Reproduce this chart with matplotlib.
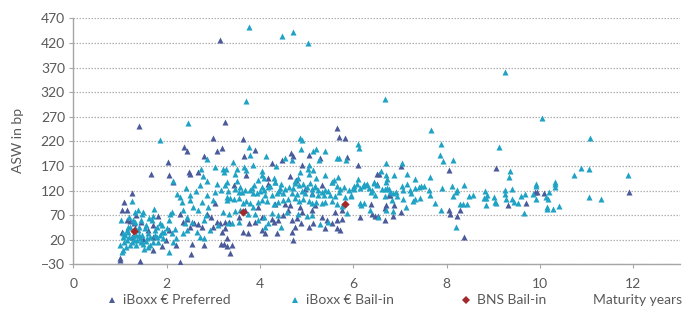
import matplotlib
matplotlib.use("Agg")
import matplotlib.pyplot as plt
from matplotlib.lines import Line2D

plt.rcParams['font.family'] = ['Lato', 'DejaVu Sans']

# ---------------- data (maturity in years, ASW in bp) ----------------
pref_x = [3.15,
          3.26, 3.64, 3.90, 3.66, 4.25, 3.71, 4.18, 4.47, 4.67, 4.71, 5.06, 5.29, 4.89, 4.65, 4.78, 5.66, 5.69, 5.82, 5.86,
          1.40, 2.37, 2.44, 3.00, 2.03, 1.66, 2.05, 2.48, 2.51, 2.67, 2.81, 3.08, 3.18, 2.13,
          1.01, 1.01, 1.09, 1.16, 1.25, 1.22, 1.29, 1.32, 1.43, 1.50, 1.70, 1.71, 1.70, 1.89, 2.04, 2.29, 2.29, 2.36, 2.44,
          2.50, 2.54, 2.59, 2.68, 2.75, 2.79, 2.86, 2.96, 3.00, 3.04, 3.07, 3.14, 3.18, 3.25, 3.29, 2.21, 1.82, 1.99, 2.52,
          3.17, 3.22, 3.29, 3.39, 3.36,
          1.05, 1.15, 1.25, 1.35, 1.45, 1.60, 1.05,
          3.45, 3.68, 3.96, 4.04, 3.89, 3.76, 3.64, 3.74, 4.05, 4.11, 4.36, 4.68, 4.71, 4.76, 4.88, 5.04, 5.14, 5.39, 5.54,
          5.66, 5.75, 5.64, 5.71, 3.25, 3.34, 3.54, 4.25, 4.31, 4.39, 4.50, 4.59, 4.68, 4.79, 4.89, 5.12, 5.18, 5.32, 5.43,
          5.61, 5.75, 4.32, 4.54, 4.64, 4.86, 4.96, 5.11, 5.32, 4.18,
          6.09, 8.04, 7.03, 6.50, 6.54,
          6.14, 6.37, 6.40, 6.47, 6.50, 6.52, 6.67, 6.70, 6.77, 6.84, 6.87, 7.03, 6.68, 8.04, 8.07, 8.23, 8.29, 8.38, 6.79,
          9.05, 11.91, 9.32, 9.71, 9.89, 9.93, 10.08]
pref_y = [425,
          259, 225, 202, 191, 176, 151, 145, 181, 196, 191, 192, 186, 171, 150, 141, 248, 229, 226, 189,
          252, 209, 200, 226, 178, 153, 152, 157, 153, 157, 190, 200, 206, 137,
          -18, -22, 97, 80, 114, 57, 53, 43, -23, 21, 50, 26, -1, 7, 40, -25, 73, 56, 63,
          46, 12, 53, 52, 46, 9, 73, 67, 46, 94, 56, 53, 36, 56, 23, 9, 68, 19, -10,
          11, 11, 8, 9, -8,
          35, 60, 25, 70, 55, 40, 80,
          131, 80, 87, 66, 56, 54, 36, 34, 39, 33, 33, 36, 20, 46, 53, 45, 53, 43, 53,
          60, 63, 43, 39, 43, 56, 66, 63, 56, 60, 70, 80, 61, 65, 77, 81, 90, 66, 61,
          77, 81, 93, 93, 90, 87, 124, 114, 131, 134,
          172, 161, 169, 154, 154,
          67, 92, 73, 68, 133, 68, 84, 90, 110, 68, 90, 76, 60, 80, 73, 68, 81, 26, 111,
          166, 116, 91, 95, 116, 116, 114]

bail_x = [3.76, 4.47, 4.71, 5.03, 9.25, 10.04, 11.07, 9.12,
          3.71, 3.77, 3.78, 4.12, 3.42, 4.34, 3.84, 3.66, 3.69, 3.50, 3.46, 4.05, 4.05, 4.09, 4.32, 4.54, 4.69, 4.86, 4.90,
          4.87, 5.14, 5.21, 5.39, 5.26, 5.04, 5.02, 5.14, 4.86, 4.81, 5.04, 5.39, 5.68, 5.64, 5.69, 5.84, 5.55,
          2.46, 1.86, 2.73, 2.14, 2.77, 2.86, 2.86, 3.04, 3.21, 3.27, 3.22,
          1.02, 1.06, 1.07, 1.06, 1.14, 1.18, 1.25, 1.20, 1.27, 1.32, 1.39, 1.47, 1.50, 1.41, 1.34, 1.37, 1.43, 1.50, 1.57,
          1.61, 1.68, 1.71, 1.73, 1.75, 1.79, 1.82, 1.89, 1.93, 2.00, 2.04, 2.07, 2.11, 2.06, 2.14, 2.20, 2.23, 2.29, 2.32,
          2.36, 2.42, 2.43, 2.49, 2.51, 2.54, 2.57, 2.63, 2.68, 2.71, 2.75, 2.79, 2.84, 2.87, 2.89, 2.93, 3.00, 3.04, 3.07,
          3.11, 3.16, 3.20, 3.25, 3.29, 3.32, 1.01, 1.04, 1.22, 1.54, 1.64, 1.79, 1.86, 2.11, 2.18, 2.34, 2.39, 2.44, 2.64,
          2.71, 2.79,
          1.10, 1.15, 1.20, 1.25, 1.30, 1.35, 1.40, 1.45, 1.12, 1.18, 1.28, 1.38, 1.48, 1.55, 1.60, 1.65, 1.70, 1.75, 1.22,
          1.33, 1.45, 1.55, 1.62, 1.08, 1.52, 1.85, 1.95, 1.90,
          3.29, 3.88, 4.05, 4.09, 4.18, 4.32, 4.43, 4.46, 4.54, 4.71, 4.76, 4.84, 4.93, 5.00, 5.07, 5.12, 5.18, 5.25, 5.32,
          5.39, 5.55, 5.64, 5.71, 5.79, 5.91, 5.99, 3.32, 3.46, 3.54, 3.61, 3.68, 3.79, 3.86, 3.93, 4.11, 4.25, 4.36, 4.50,
          4.68, 4.79, 4.96, 5.11, 5.25, 5.38, 5.50, 5.61, 5.82, 5.96, 3.29, 3.36, 3.45, 3.54, 3.64, 3.71, 3.79, 3.86, 3.96,
          4.04, 4.16, 4.29, 4.39, 4.50, 4.61, 4.74, 4.84, 4.93, 5.04, 5.12, 5.21, 5.32, 5.39, 5.54, 5.64, 5.75, 5.86, 3.34,
          3.46, 3.57, 3.75, 3.89, 4.09, 4.25, 4.39, 4.57, 4.81, 5.00, 5.11, 5.29, 5.46, 3.39, 3.55, 3.96, 4.18, 4.11, 4.45,
          6.68, 7.67, 6.10, 6.12, 7.88, 7.86, 7.93, 8.14, 6.69, 7.05, 6.59, 6.69, 6.72, 6.87, 7.14, 7.33, 7.64, 6.10, 6.44,
          5.95, 6.02, 6.02, 6.07, 6.14, 6.20, 6.22, 6.27, 6.30, 6.34, 6.37, 6.41, 6.44, 6.47, 6.50, 6.61, 6.67, 6.67, 6.72,
          6.70, 6.76, 6.79, 6.82, 6.84, 6.92, 6.93, 7.04, 7.06, 7.07, 7.13, 7.14, 7.22, 7.24, 7.27, 7.33, 7.40, 7.46, 7.52,
          7.62, 7.64, 7.76, 7.87, 7.90, 8.12, 8.13, 8.19, 8.23, 8.29, 8.36, 8.38, 8.43, 8.47, 8.56, 8.20, 6.14, 6.17, 6.22,
          6.36, 6.53, 6.70, 6.86, 7.32, 7.42,
          8.82, 8.79, 8.84, 8.86, 8.84, 9.02, 9.04, 9.05, 9.24, 9.26, 9.27, 9.39, 9.40, 9.44, 9.52, 9.59, 9.68, 9.65, 9.84,
          9.91, 9.92, 9.91, 10.12, 10.18, 10.20, 10.14, 10.14, 10.27, 10.41, 10.32, 10.33, 10.32, 9.36, 9.34, 10.73, 10.88,
          11.06, 11.89, 11.06, 11.31,
          3.58, 3.83, 4.00, 4.22, 4.40, 4.62, 4.90, 5.17, 5.45, 5.70, 3.50, 3.95, 4.30, 4.75, 5.20, 5.58]
bail_y = [452, 435, 443, 420, 360, 268, 226, 209,
          302, 208, 193, 190, 178, 169, 172, 167, 162, 163, 154, 160, 151, 145, 138, 187, 181, 227, 223,
          204, 200, 204, 201, 181, 172, 164, 161, 158, 146, 153, 151, 148, 187, 187, 181, 137,
          258, 223, 164, 140, 149, 140, 185, 167, 164, 164, 157,
          61, 33, 25, -1, 40, 46, 99, 67, 60, 77, 80, 73, 77, 46, 29, 19, 23, 12, 23,
          33, 60, 68, 82, 40, 26, 16, 36, 23, 43, 60, 73, 77, -5, 16, 23, 113, 107, 97,
          80, 126, 67, 111, 101, 56, 87, 118, 80, 131, 97, 60, 70, 111, 87, 40, 101, 117, 134,
          50, 122, 77, 131, 107, 53, 9, -5, 9, 43, 9, 46, 53, 34, 41, 33, 53, 40, 36,
          26, 23,
          30, 20, 25, 15, 20, 10, 30, 15, 5, 35, 28, 40, 30, 18, 5, 25, 15, 30, 45,
          55, 60, 50, 65, 15, 2, 30, 35, 50,
          138, 131, 127, 121, 127, 138, 126, 134, 124, 126, 136, 131, 133, 127, 136, 124, 129, 122, 117,
          122, 138, 129, 124, 127, 122, 126, 119, 124, 117, 117, 122, 121, 115, 114, 110, 110, 114, 115,
          114, 113, 115, 113, 110, 110, 110, 108, 107, 108, 100, 104, 102, 104, 95, 99, 94, 87, 97,
          100, 99, 92, 97, 100, 102, 104, 99, 102, 99, 95, 97, 94, 97, 99, 92, 88, 75, 73,
          79, 81, 73, 72, 66, 75, 70, 77, 73, 68, 70, 52, 56, 54, 56, 60, 54, 46, 45,
          307, 243, 215, 206, 215, 192, 179, 183, 175, 176, 159, 151, 143, 151, 154, 143, 147, 143, 137,
          111, 129, 123, 133, 126, 130, 133, 132, 134, 126, 117, 121, 136, 111, 132, 124, 124, 109, 126,
          138, 123, 117, 100, 115, 117, 109, 129, 102, 121, 87, 134, 121, 115, 99, 125, 128, 129, 130,
          122, 111, 94, 80, 126, 130, 109, 117, 122, 92, 92, 132, 92, 109, 111, 45, 94, 90, 94,
          81, 67, 81, 79, 102, 104,
          120, 105, 105, 111, 90, 106, 96, 94, 121, 112, 103, 124, 103, 97, 95, 109, 113, 75, 112,
          130, 133, 103, 107, 103, 116, 87, 82, 82, 88, 138, 133, 128, 160, 147, 151, 165,
          164, 151, 107, 103,
          128, 125, 118, 130, 120, 127, 118, 128, 118, 116, 140, 142, 145, 140, 146, 142]

bns_x = [1.29, 3.64, 5.82]
bns_y = [38, 76, 93]

y_ticks = [-30, 20, 70, 120, 170, 220, 270, 320, 370, 420, 470]
x_ticks = [0, 2, 4, 6, 8, 10, 12]

c_pref = '#4a5a9a'
c_bail = '#1fa2c4'
c_bns = '#a3282a'
c_text = '#595959'

# ---------------- figure ----------------
fig = plt.figure(figsize=(6.89, 3.13), dpi=100)
ax = fig.add_axes([0.1064, 0.1556, 0.987 - 0.1064, 0.9415 - 0.1556])

ax.scatter(pref_x, pref_y, marker='^', s=19, color=c_pref, linewidths=0, zorder=3)
ax.scatter(bail_x, bail_y, marker='^', s=19, color=c_bail, linewidths=0, zorder=3)
ax.scatter(bns_x, bns_y, marker='D', s=18, color=c_bns, linewidths=0, zorder=4)

ax.set_xlim(0, 13)
ax.set_ylim(-30, 470)
ax.set_xticks(x_ticks)
ax.set_yticks(y_ticks)
ax.tick_params(axis='both', labelsize=10, colors=c_text, length=3, width=0.8)
ax.tick_params(axis='x', pad=7, color='#a6a6a6')
ax.tick_params(axis='y', pad=3, color='#a6a6a6')
for t in ax.get_xticklabels() + ax.get_yticklabels():
    t.set_color(c_text)

ax.yaxis.grid(True, linestyle=(0, (1.2, 1.2)), color='#b0b0b0', linewidth=0.9)
ax.set_axisbelow(True)
for s in ['top', 'right']:
    ax.spines[s].set_visible(False)
for s in ['left', 'bottom']:
    ax.spines[s].set_color('#a6a6a6')
    ax.spines[s].set_linewidth(1.0)

fig.text(0.026, 0.55, 'ASW in bp', rotation=90, ha='center', va='center', fontsize=10, color=c_text)
fig.text(0.861, 0.040, 'Maturity years', ha='left', va='center', fontsize=10, color=c_text)

entries = [
    (Line2D([], [], marker='^', linestyle='none', markersize=4.8, color=c_pref, markeredgewidth=0), 'iBoxx € Preferred', 0.155),
    (Line2D([], [], marker='^', linestyle='none', markersize=4.8, color=c_bail, markeredgewidth=0), 'iBoxx € Bail-in', 0.420),
    (Line2D([], [], marker='D', linestyle='none', markersize=4.2, color=c_bns, markeredgewidth=0), 'BNS Bail-in', 0.668),
]
for h, lab, xpos in entries:
    fig.legend(handles=[h], labels=[lab], loc='center left', bbox_to_anchor=(xpos, 0.040),
               frameon=False, fontsize=10, handlelength=0.8, handletextpad=0.4,
               borderpad=0, borderaxespad=0, labelcolor=c_text)

fig.savefig('out.png', dpi=100)
